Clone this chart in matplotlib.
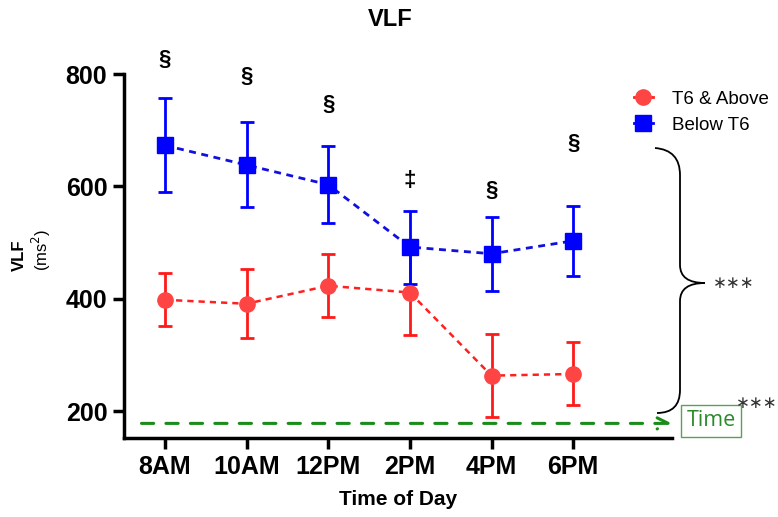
import matplotlib.pyplot as plt
from matplotlib.path import Path
from matplotlib.patches import PathPatch
from matplotlib.lines import Line2D

plt.rcParams['font.family'] = ['Liberation Sans', 'DejaVu Sans']

times = ["8AM", "10AM", "12PM", "2PM", "4PM", "6PM"]
below_mean = [673, 638, 603, 492, 480, 503]
below_lo = [590, 563, 535, 427, 413, 441]
below_hi = [758, 714, 672, 557, 546, 565]
above_mean = [398, 391, 423, 411, 263, 266]
above_lo = [352, 330, 367, 335, 190, 211]
above_hi = [445, 453, 480, 490, 337, 323]
sig_marks = ["§", "§", "§", "‡", "§", "§"]
sig_y = [825, 795, 745, 611, 593, 677]
time_line_y = 178

x = list(range(len(times)))
W, H = 778, 517
fig = plt.figure(figsize=(W / 100, H / 100), dpi=100)
ax = fig.add_axes([124 / W, 1 - 438 / H, (672 - 124) / W, (438 - 74) / H])

def px(xp, yp):
    return (xp / W, 1 - yp / H)

err_above = [[m - l for m, l in zip(above_mean, above_lo)], [h - m for m, h in zip(above_mean, above_hi)]]
err_below = [[m - l for m, l in zip(below_mean, below_lo)], [h - m for m, h in zip(below_mean, below_hi)]]

red, blue = "#ff4444", "#0000ff"
ax.errorbar(x, above_mean, yerr=err_above, color="#ff2020", ecolor="#ff1a1a", marker="o",
            markersize=11, markerfacecolor=red, markeredgecolor=red, linestyle=(0, (2.5, 2)),
            linewidth=1.8, elinewidth=2, capsize=5, capthick=2, zorder=3)
ax.errorbar(x, below_mean, yerr=err_below, color="#1010e0", ecolor=blue, marker="s",
            markersize=11, markerfacecolor=blue, markeredgecolor=blue, linestyle=(0, (2.5, 2)),
            linewidth=2, elinewidth=2, capsize=5, capthick=2, zorder=3)

for xi, m, yv in zip(x, sig_marks, sig_y):
    ax.text(xi, yv, m, ha="center", va="center", fontsize=16, fontweight="bold", clip_on=False)

ax.set_xlim(-0.5, 6.21)
ax.set_ylim(152, 800)
ax.set_xticks(x)
ax.set_xticklabels(times)
ax.set_yticks([200, 400, 600, 800])
for s in ["top", "right"]:
    ax.spines[s].set_visible(False)
for s in ["left", "bottom"]:
    ax.spines[s].set_linewidth(2.5)
ax.tick_params(axis="both", length=8, width=2.5, labelsize=18, pad=4)
for lab in ax.get_xticklabels() + ax.get_yticklabels():
    lab.set_fontweight("bold")

ax.set_xlabel("Time of Day", fontsize=15, fontweight="bold", labelpad=8)
fig.text(px(19, 255)[0], px(19, 255)[1], "VLF", rotation=90, ha="center", va="center",
         fontsize=12, fontweight="bold")
fig.text(px(41, 250)[0], px(41, 250)[1], "(ms$^2$)", rotation=90, ha="center", va="center",
         fontsize=12)
fig.text(390 / W, 1 - 20 / H, "VLF", ha="center", va="center", fontsize=17, fontweight="bold")

handles = [Line2D([], [], color="#ff2020", marker="o", markersize=11, markerfacecolor=red,
                  markeredgecolor=red, linewidth=2),
           Line2D([], [], color=blue, marker="s", markersize=11, markerfacecolor=blue,
                  markeredgecolor=blue, linewidth=2)]
ax.legend(handles, ["T6 & Above", "Below T6"], loc="upper left", bbox_to_anchor=(0.9, 1.0),
          frameon=False, fontsize=13.5, handlelength=1.0, handletextpad=1.0, labelspacing=0.45)

# time arrow
ax.annotate("", xy=(6.24, time_line_y), xytext=(-0.32, time_line_y),
            arrowprops=dict(arrowstyle="->", color="#1a8c1a", lw=2.2, linestyle=(0, (4, 4)),
                            mutation_scale=20), annotation_clip=False)
fig.text(px(711, 421)[0], px(711, 421)[1], "Time", ha="center", va="center", fontsize=15.5,
         color="#2a8a2a", family=["Open Sans", "DejaVu Sans"],
         bbox=dict(boxstyle="square,pad=0.26", facecolor="white", edgecolor="#5aa05a", linewidth=1))

# curly brace
verts = [px(655, 148), px(680, 150), px(680, 175),
         px(680, 265), px(680, 283), px(705, 283),
         px(680, 283), px(680, 301),
         px(680, 390), px(680, 413), px(657, 413)]
codes = [Path.MOVETO, Path.CURVE3, Path.CURVE3,
         Path.LINETO, Path.CURVE3, Path.CURVE3,
         Path.CURVE3, Path.CURVE3,
         Path.LINETO, Path.CURVE3, Path.CURVE3]
fig.patches.append(PathPatch(Path(verts, codes), transform=fig.transFigure, fill=False,
                             edgecolor="black", linewidth=1.3))
fig.text(px(734, 283)[0], px(734, 283)[1], "∗∗∗", ha="center", va="center", fontsize=12,
         color="#333333", family=["DejaVu Sans"])
fig.text(px(757, 403)[0], px(757, 403)[1], "∗∗∗", ha="center", va="center", fontsize=12,
         color="#333333", family=["DejaVu Sans"])

fig.savefig("out.png", dpi=100)
